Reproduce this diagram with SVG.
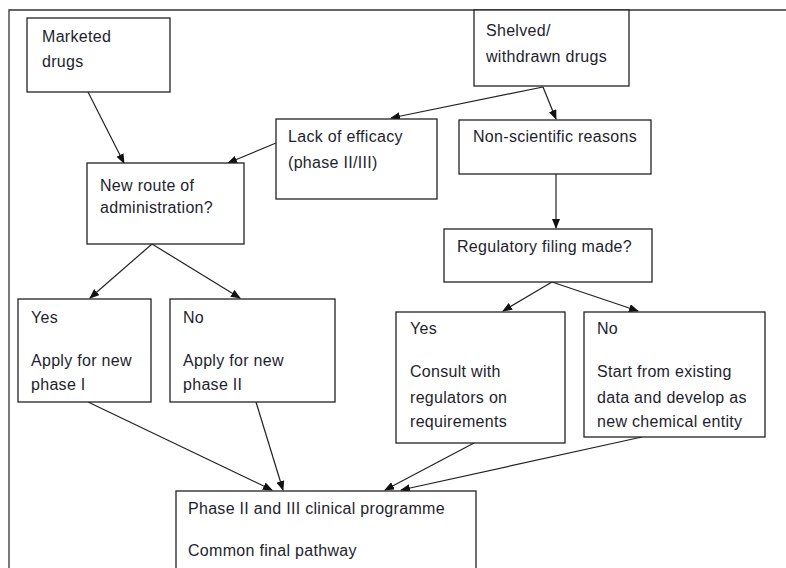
<svg xmlns="http://www.w3.org/2000/svg" width="786" height="568" viewBox="0 0 786 568">
<defs>
<style>
.box{fill:#fff;stroke:#222;stroke-width:1.3}
.t{font-family:"Liberation Sans",Arial,sans-serif;font-size:16px;letter-spacing:0.3px;fill:#1e1e2e}
.c{stroke:#222;stroke-width:1.2;fill:none;marker-end:url(#ah)}
</style>
<marker id="ah" markerWidth="10" markerHeight="8" refX="9" refY="4" orient="auto" markerUnits="userSpaceOnUse">
<path d="M0,0 L10,4 L0,8 Z" fill="#111"/>
</marker>
</defs>
<rect width="786" height="568" fill="#fff"/>
<path d="M9,568 L9,10 L786,10" fill="none" stroke="#333" stroke-width="1.3"/>
<g id="connectors">
<line class="c" x1="88" y1="92" x2="124" y2="163"/>
<line class="c" x1="276" y1="143" x2="228" y2="163"/>
<line class="c" x1="543" y1="87" x2="391" y2="118"/>
<line class="c" x1="543" y1="87" x2="556" y2="119"/>
<line class="c" x1="556" y1="174" x2="556" y2="228"/>
<line class="c" x1="152" y1="244" x2="90" y2="298"/>
<line class="c" x1="152" y1="244" x2="240" y2="298"/>
<line class="c" x1="552" y1="282" x2="503" y2="311"/>
<line class="c" x1="552" y1="282" x2="638" y2="311"/>
<line class="c" x1="88" y1="402" x2="272" y2="490"/>
<line class="c" x1="256" y1="402" x2="283" y2="490"/>
<line class="c" x1="474" y1="443" x2="385" y2="490"/>
<line class="c" x1="642" y1="437" x2="401" y2="490"/>
</g>
<g id="marketed">
<rect class="box" x="27" y="18" width="143" height="74"/>
<text class="t" x="42" y="42">Marketed</text>
<text class="t" x="42" y="67">drugs</text>
</g>
<g id="shelved">
<rect class="box" x="474" y="10" width="155" height="76"/>
<text class="t" x="486" y="36">Shelved/</text>
<text class="t" x="486" y="62">withdrawn drugs</text>
</g>
<g id="lack">
<rect class="box" x="276" y="119" width="161" height="80"/>
<text class="t" x="288" y="142">Lack of efficacy</text>
<text class="t" x="288" y="168">(phase II/III)</text>
</g>
<g id="nonsci">
<rect class="box" x="459" y="120" width="192" height="54"/>
<text class="t" x="473" y="142">Non-scientific reasons</text>
</g>
<g id="newroute">
<rect class="box" x="87" y="163" width="157" height="81"/>
<text class="t" x="100" y="191">New route of</text>
<text class="t" x="100" y="213">administration?</text>
</g>
<g id="regfiling">
<rect class="box" x="444" y="229" width="208" height="53"/>
<text class="t" x="457" y="252">Regulatory filing made?</text>
</g>
<g id="yes1">
<rect class="box" x="18" y="299" width="133" height="103"/>
<text class="t" x="31" y="323">Yes</text>
<text class="t" x="31" y="366">Apply for new</text>
<text class="t" x="31" y="390">phase I</text>
</g>
<g id="no1">
<rect class="box" x="170" y="299" width="165" height="103"/>
<text class="t" x="183" y="323">No</text>
<text class="t" x="183" y="366">Apply for new</text>
<text class="t" x="183" y="390">phase II</text>
</g>
<g id="yes2">
<rect class="box" x="396" y="312" width="169" height="131"/>
<text class="t" x="410" y="334">Yes</text>
<text class="t" x="410" y="377">Consult with</text>
<text class="t" x="410" y="403">regulators on</text>
<text class="t" x="410" y="427">requirements</text>
</g>
<g id="no2">
<rect class="box" x="584" y="312" width="181" height="125"/>
<text class="t" x="597" y="334">No</text>
<text class="t" x="597" y="377">Start from existing</text>
<text class="t" x="597" y="403">data and develop as</text>
<text class="t" x="597" y="427">new chemical entity</text>
</g>
<g id="phase">
<rect class="box" x="176" y="491" width="300" height="90"/>
<text class="t" x="188" y="514">Phase II and III clinical programme</text>
<text class="t" x="188" y="556">Common final pathway</text>
</g>
</svg>
